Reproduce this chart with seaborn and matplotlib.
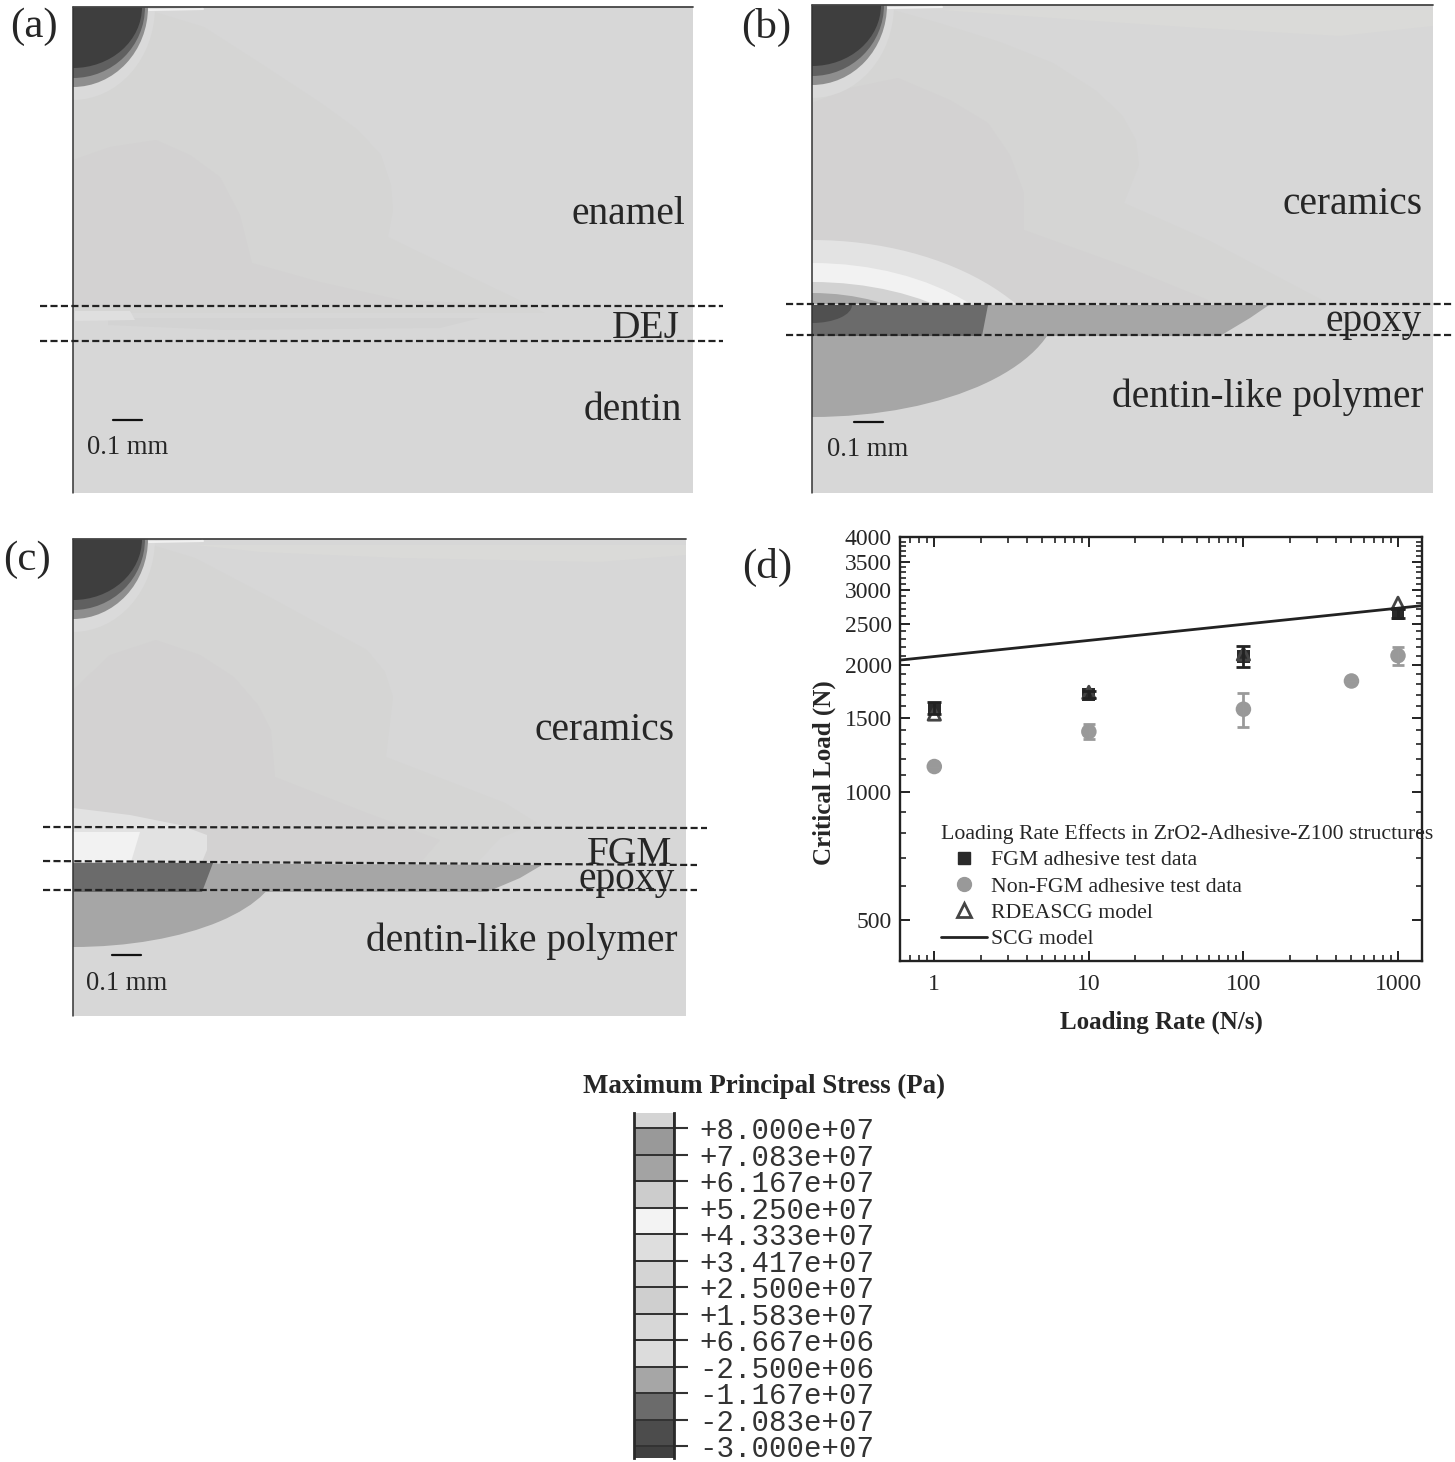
import matplotlib
matplotlib.use("Agg")
import matplotlib.pyplot as plt
from matplotlib.lines import Line2D
from matplotlib.patches import Ellipse, Polygon, Rectangle
from matplotlib.ticker import FixedLocator, NullFormatter
import numpy as np
import pandas as pd
import seaborn as sns

W_PX = 1455
H_PX = 1462

sns.set_theme(style="white")
plt.rcParams['font.family'] = ['Liberation Serif', 'DejaVu Serif']

SERIF_COLOR = '#262626'
BG = '#d7d7d7'
MID = '#d5d5d4'
INNER = '#d3d2d2'
BAND = '#a6a6a6'
DARK_BAND = '#6b6b6b'

# panel (d) values
RATE_FGM = [1, 10, 100, 1000]
LOAD_FGM = [1580, 1700, 2090, 2640]
ERR_FGM = [50, 30, 120, 60]
RATE_NON = [1, 10, 100, 500, 1000]
LOAD_NON = [1150, 1390, 1570, 1830, 2100]
ERR_NON = [0, 55, 145, 0, 100]
RATE_MODEL = [1, 10, 100, 1000]
LOAD_MODEL = [1530, 1720, 2120, 2790]
RATE_SCG = [0.6, 1430]
LOAD_SCG = [2050, 2755]
Y_MAJOR = [500, 1000, 1500, 2000, 2500, 3000, 3500, 4000]
Y_MINOR = [400, 600, 700, 800, 900, 1100, 1200, 1300, 1400, 1600, 1700, 1800, 1900,
           2100, 2200, 2300, 2400, 2600, 2700, 2800, 2900, 3100, 3200, 3300, 3400,
           3600, 3700, 3800, 3900]

# colour key
KEY_GRAYS = [.83, .60, .64, .80, .95, .87, .83, .81, .84, .86, .65, .42, .30, .25]
KEY_LABELS = ['+8.000e+07', '+7.083e+07', '+6.167e+07', '+5.250e+07', '+4.333e+07',
              '+3.417e+07', '+2.500e+07', '+1.583e+07', '+6.667e+06', '-2.500e+06',
              '-1.167e+07', '-2.083e+07', '-3.000e+07']

# contour outlines, read in figure pixels
A_MID = [(148, 10), (204, 27), (260, 63), (321, 103), (358, 130), (381, 155), (391, 185),
         (393, 210), (388, 237), (450, 267), (519, 300), (545, 313), (73, 313), (73, 30)]
A_INNER = [(73, 160), (110, 147), (156, 140), (190, 155), (220, 177), (240, 215), (252, 263),
           (320, 282), (400, 300), (510, 305), (73, 306)]
A_DEJ_DARK = [(108, 318), (480, 318), (440, 328), (225, 330), (108, 325)]
A_DEJ_LIGHT = [(75, 311), (130, 311), (135, 320), (75, 321)]
B_PALE = [(940, 10), (1433, 10), (1433, 26), (1340, 36), (1200, 28), (1080, 20)]
B_MID = [(886, 8), (939, 23), (1000, 42), (1053, 63), (1095, 90), (1122, 115), (1136, 140),
         (1139, 165), (1124, 203), (1208, 240), (1322, 300), (1322, 304), (812, 304), (812, 95)]
B_INNER = [(812, 103), (850, 88), (898, 78), (950, 100), (988, 123), (1010, 155), (1024, 193),
           (1024, 230), (1127, 267), (1208, 300), (1208, 304), (812, 304)]
B_BAND = [(812, 305), (1269, 305), (1250, 318), (1220, 336), (812, 336)]
B_DARK = [(812, 305), (988, 305), (982, 336), (812, 336)]
C_PALE = [(195, 545), (686, 545), (686, 555), (600, 562), (400, 558), (260, 552)]
C_MID = [(142, 542), (195, 558), (275, 600), (330, 630), (367, 650), (385, 672), (393, 697),
         (386, 757), (505, 803), (537, 823), (500, 838), (477, 863), (73, 863), (73, 630)]
C_INNER = [(73, 690), (110, 655), (156, 640), (200, 655), (234, 677), (258, 705), (271, 730),
           (275, 777), (367, 813), (440, 840), (420, 863), (73, 863)]
C_LIGHT = [(73, 808), (130, 815), (180, 825), (207, 835), (207, 850), (202, 862), (73, 862)]
C_WHITE = [(73, 832), (140, 832), (131, 862), (73, 862)]
C_BAND = [(73, 863), (542, 865), (520, 878), (487, 892), (73, 892)]
C_DARK = [(73, 863), (213, 863), (202, 892), (73, 892)]

BLOB_RADII = [(82, 93), (75, 80), (72, 71), (69, 61)]
BLOB_COLORS = ['#dadada', '#8e8e8e', '#606060', '#3e3e3e']
B_ARC_RADII = [(255, 160), (222, 137), (209, 118), (166, 107)]
B_ARC_COLORS = ['#e3e3e3', '#f2f2f2', '#d2d2d2', '#a8a8a8']

PANEL_BOXES = [(73, 7, 693, 493), (812, 5, 1433, 493), (73, 539, 686, 1016)]
DASHES_A = [(40, 306, 723, 306), (40, 341, 723, 341)]
DASHES_B = [(786, 304, 1452, 304), (786, 335, 1452, 335)]
DASHES_C = [(43, 827, 707, 828), (43, 861, 697, 865), (43, 890, 697, 890)]
BARS = [(113, 142, 420), (854, 883, 422), (112, 141, 955)]

# text, label, x, y
RIGHT_TEXT = [('enamel', 685, 215), ('DEJ', 680, 328), ('dentin', 682, 410),
              ('ceramics', 1422, 204), ('epoxy', 1422, 321), ('dentin-like polymer', 1423, 397),
              ('ceramics', 675, 731), ('FGM', 672, 854), ('epoxy', 675, 880),
              ('dentin-like polymer', 677, 941)]
SCALE_TEXT = [('0.1 mm', 87, 447), ('0.1 mm', 827, 449), ('0.1 mm', 86, 984)]
PANEL_TEXT = [('(a)', 10, 27), ('(b)', 741, 27), ('(c)', 3, 560), ('(d)', 742, 567)]


def px_axes(fig, left, top, right, bottom, **kw):
    return fig.add_axes([left / W_PX, 1 - bottom / H_PX, (right - left) / W_PX, (bottom - top) / H_PX], **kw)


def poly(ax, pts, color):
    ax.add_patch(Polygon(pts, closed=True, facecolor=color, edgecolor='none'))


def clipped_ellipse(ax, cx, cy, rx, ry, color, clip):
    e = Ellipse((cx, cy), 2 * rx, 2 * ry, facecolor=color, edgecolor='none')
    ax.add_patch(e)
    box = Rectangle((clip[0], clip[1]), clip[2] - clip[0], clip[3] - clip[1], transform=ax.transData)
    e.set_clip_path(box)


fig = plt.figure(figsize=(W_PX / 100, H_PX / 100), dpi=100, facecolor='white')

# panels a, b, c share one axes in figure pixels
ax = px_axes(fig, 0, 0, W_PX, H_PX)
ax.set_xlim(0, W_PX)
ax.set_ylim(H_PX, 0)
ax.axis('off')

for box in PANEL_BOXES:
    ax.add_patch(Rectangle((box[0], box[1]), box[2] - box[0], box[3] - box[1], facecolor=BG, edgecolor='none'))

poly(ax, A_MID, MID)
poly(ax, A_INNER, INNER)
poly(ax, A_DEJ_DARK, '#d3d3d3')
poly(ax, A_DEJ_LIGHT, '#dfdfdf')

poly(ax, B_PALE, '#dadad8')
poly(ax, B_MID, MID)
poly(ax, B_INNER, INNER)
b_clip = (812, 5, 1433, 304)
for (rx, ry), c in zip(B_ARC_RADII, B_ARC_COLORS):
    clipped_ellipse(ax, 812, 400, rx, ry, c, b_clip)
clipped_ellipse(ax, 812, 300, 247, 117, BAND, (812, 336, 1433, 493))
poly(ax, B_BAND, BAND)
poly(ax, B_DARK, DARK_BAND)
clipped_ellipse(ax, 812, 305, 40, 18, '#505050', (812, 305, 1433, 336))

poly(ax, C_PALE, '#dadad8')
poly(ax, C_MID, MID)
poly(ax, C_INNER, INNER)
poly(ax, C_LIGHT, '#e2e2e2')
poly(ax, C_WHITE, '#f2f2f2')
clipped_ellipse(ax, 73, 860, 207, 87, BAND, (73, 891, 686, 1016))
poly(ax, C_BAND, BAND)
poly(ax, C_DARK, DARK_BAND)

for box, cy in zip(PANEL_BOXES, [7, 5, 539]):
    clip = (box[0], box[1], box[2], box[3])
    for (rx, ry), c in zip(BLOB_RADII, BLOB_COLORS):
        clipped_ellipse(ax, box[0], cy, rx, ry, c, clip)
    ax.plot([box[0], box[0]], [box[1], box[3]], color='#333333', lw=1.1)
    ax.plot([box[0], box[2]], [box[1], box[1]], color='#444444', lw=1.3)
    ax.plot([box[0] + 76, box[0] + 130], [box[1] + 3, box[1] + 2], color='#f0f0f0', lw=1.5)

for seg in DASHES_A + DASHES_B + DASHES_C:
    ax.plot([seg[0], seg[2]], [seg[1], seg[3]], color='#222222', lw=1.6, dashes=(3.2, 1.5))

for x0, x1, y in BARS:
    ax.plot([x0, x1], [y, y], color='#111111', lw=1.6)

for label, x, y in RIGHT_TEXT:
    ax.text(x, y, label, ha='right', va='center', fontsize=28.4, color=SERIF_COLOR)
for label, x, y in SCALE_TEXT:
    ax.text(x, y, label, ha='left', va='center', fontsize=19.2, color=SERIF_COLOR)
for label, x, y in PANEL_TEXT:
    ax.text(x, y, label, ha='left', va='center', fontsize=31, color=SERIF_COLOR)
ax.text(764, 1086, 'Maximum Principal Stress (Pa)', ha='center', va='center', fontsize=19.4,
        fontweight='bold', color=SERIF_COLOR)

# panel d
ax_d = px_axes(fig, 900, 537, 1422, 961)
ax_d.set_facecolor('white')
ax_d.set_xscale('log')
ax_d.set_yscale('log')

df_fgm = pd.DataFrame({'rate': RATE_FGM, 'load': LOAD_FGM})
df_non = pd.DataFrame({'rate': RATE_NON, 'load': LOAD_NON})
df_model = pd.DataFrame({'rate': RATE_MODEL, 'load': LOAD_MODEL})
df_scg = pd.DataFrame({'rate': RATE_SCG, 'load': LOAD_SCG})

ax_d.errorbar(RATE_NON, LOAD_NON, yerr=ERR_NON, fmt='none', ecolor='#9a9a9a', elinewidth=2, capsize=4, capthick=2)
ax_d.errorbar(RATE_FGM, LOAD_FGM, yerr=ERR_FGM, fmt='none', ecolor='#222222', elinewidth=2, capsize=5, capthick=2)
sns.scatterplot(data=df_non, x='rate', y='load', ax=ax_d, marker='o', s=125, color='#999999', edgecolor='none')
sns.scatterplot(data=df_fgm, x='rate', y='load', ax=ax_d, marker='s', s=85, color='#2a2a2a', edgecolor='none')
sns.scatterplot(data=df_model, x='rate', y='load', ax=ax_d, marker='^', s=80, facecolor='none',
                edgecolor='#444444', linewidth=2)
sns.lineplot(data=df_scg, x='rate', y='load', ax=ax_d, color='#222222', lw=2, errorbar=None)

ax_d.set_xlim(0.6, 1430)
ax_d.set_ylim(400, 4000)
ax_d.set_xticks([1, 10, 100, 1000], ['1', '10', '100', '1000'])
ax_d.xaxis.set_minor_locator(FixedLocator([0.6, 0.7, 0.8, 0.9, 2, 3, 4, 5, 6, 7, 8, 9, 20, 30, 40, 50, 60, 70, 80, 90,
                                           200, 300, 400, 500, 600, 700, 800, 900]))
ax_d.xaxis.set_minor_formatter(NullFormatter())
ax_d.set_yticks(Y_MAJOR, [str(v) for v in Y_MAJOR])
ax_d.yaxis.set_minor_locator(FixedLocator(Y_MINOR))
ax_d.yaxis.set_minor_formatter(NullFormatter())
ax_d.tick_params(which='major', direction='in', top=True, right=True, bottom=True, left=True, length=7, width=1.4,
                 labelsize=17, labelcolor=SERIF_COLOR, color='#222222', pad=6)
ax_d.tick_params(which='minor', direction='in', top=True, right=True, bottom=True, left=True, length=4, width=1.2,
                 color='#222222')
ax_d.tick_params(axis='x', which='major', pad=9)
for s in ax_d.spines.values():
    s.set_visible(True)
    s.set_linewidth(1.7)
    s.set_color('#222222')

ax_d.set_xlabel('Loading Rate (N/s)', fontsize=18, fontweight='bold', color=SERIF_COLOR)
ax_d.set_ylabel('Critical Load (N)', fontsize=18, fontweight='bold', color=SERIF_COLOR)
ax_d.xaxis.set_label_coords(0.5, -0.117)
ax_d.yaxis.set_label_coords(-0.122, 0.445)

handles = [Line2D([], [], ls='', marker='s', ms=8.5, color='#2a2a2a'),
           Line2D([], [], ls='', marker='o', ms=10, color='#999999'),
           Line2D([], [], ls='', marker='^', ms=9.5, mfc='none', mec='#444444', mew=2),
           Line2D([], [], color='#222222', lw=2)]
labels = ['FGM adhesive test data', 'Non-FGM adhesive test data', 'RDEASCG model', 'SCG model']
leg = ax_d.legend(handles, labels, title='Loading Rate Effects in ZrO2-Adhesive-Z100 structures', alignment='left',
                  frameon=False, fontsize=15.7, title_fontsize=15.7, loc='upper left',
                  bbox_to_anchor=((941 - 900) / 522, (961 - 824) / 424), borderpad=0, borderaxespad=0,
                  handlelength=2.1, handletextpad=0.2, labelspacing=0.28)
for t in leg.get_texts():
    t.set_color(SERIF_COLOR)
leg.get_title().set_color(SERIF_COLOR)

# colour key
ax_key = px_axes(fig, 634, 1113, 674, 1458)
key = pd.DataFrame({'gray': KEY_GRAYS})
sns.heatmap(key, ax=ax_key, cmap='gray', vmin=0, vmax=1, cbar=False, linewidths=1.1, linecolor='#333333',
            xticklabels=False, yticklabels=False)
ax_key.set_ylim(14 - 0.55, 0.43)
ax_key.yaxis.tick_right()
ax_key.set_yticks(np.arange(1, 14), KEY_LABELS, rotation=0, family=['Liberation Mono', 'DejaVu Sans Mono'])
ax_key.tick_params(axis='y', right=True, left=False, length=10, width=1.5, color='#333333', labelsize=21,
                   labelcolor='#333333', pad=8)
for side in ['left', 'right']:
    ax_key.spines[side].set_visible(True)
    ax_key.spines[side].set_linewidth(2)
    ax_key.spines[side].set_color('#2a2a2a')

fig.savefig('out.png', dpi=100)
